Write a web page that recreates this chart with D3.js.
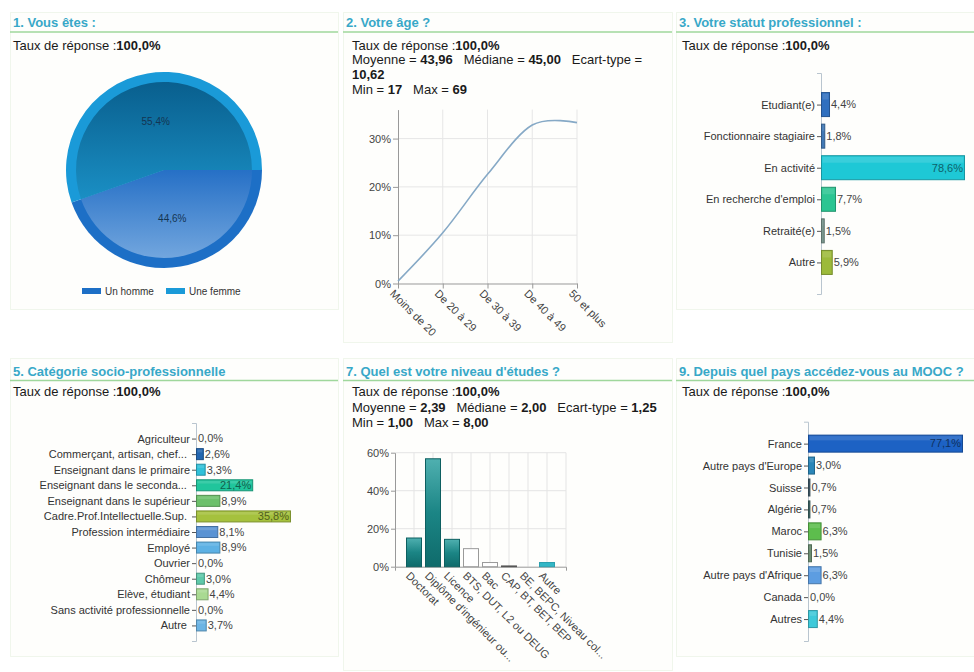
<!DOCTYPE html>
<html><head><meta charset="utf-8">
<script src="https://cdn.jsdelivr.net/npm/d3@7"></script>
<style>
body{margin:0;background:#fff;}
svg text{font-family:"Liberation Sans",Arial,sans-serif;white-space:pre;}
</style></head><body>
<svg id="c" width="974" height="672"></svg>
<script>
// ---------------- DATA ----------------
const titles = ["1. Vous êtes :", "2. Votre âge ?", "3. Votre statut professionnel :",
  "5. Catégorie socio-professionnelle", "7. Quel est votre niveau d'études ?", "9. Depuis quel pays accédez-vous au MOOC ?"];

const genderCats = ["Un homme", "Une femme"];
const genderVals = [44.6, 55.4];

const ageCats = ["Moins de 20", "De 20 à 29", "De 30 à 39", "De 40 à 49", "50 et plus"];
const ageVals = [0.5, 10.5, 22.6, 32.8, 33.3];
const ageTicks = [0, 10, 20, 30];

const statutCats = ["Etudiant(e)", "Fonctionnaire stagiaire", "En activité", "En recherche d'emploi", "Retraité(e)", "Autre"];
const statutVals = [4.4, 1.8, 78.6, 7.7, 1.5, 5.9];

const cspCats = ["Agriculteur", "Commerçant, artisan, chef... ", "Enseignant dans le primaire", "Enseignant dans le seconda... ",
  "Enseignant dans le supérieur", "Cadre.Prof.Intellectuelle.Sup. ", "Profession intermédiaire", "Employé", "Ouvrier",
  "Chômeur", "Elève, étudiant", "Sans activité professionnelle", "Autre "];
const cspVals = [0.0, 2.6, 3.3, 21.4, 8.9, 35.8, 8.1, 8.9, 0.0, 3.0, 4.4, 0.0, 3.7];

const etudesCats = ["Doctorat", "Diplôme d'ingénieur ou...", "Licence", "BTS, DUT, L2 ou DEUG", "Bac",
  "CAP, BT, BET, BEP", "BE, BEPC, Niveau col...", "Autre"];
const etudesVals = [15.1, 56.8, 14.4, 9.5, 2.2, 0.4, 0.0, 2.2];
const etudesTicks = [0, 20, 40, 60];

const paysCats = ["France", "Autre pays d'Europe", "Suisse", "Algérie", "Maroc", "Tunisie", "Autre pays d'Afrique", "Canada", "Autres"];
const paysVals = [77.1, 3.0, 0.7, 0.7, 6.3, 1.5, 6.3, 0.0, 4.4];

const ageStats = [
  [["Taux de réponse :", 0], ["100,0%", 1]],
  [["Moyenne = ", 0], ["43,96", 1], ["   Médiane = ", 0], ["45,00", 1], ["   Ecart-type =", 0]],
  [["10,62", 1]],
  [["Min = ", 0], ["17", 1], ["   Max = ", 0], ["69", 1]]
];
const etudesStats = [
  [["Taux de réponse :", 0], ["100,0%", 1]],
  [["Moyenne = ", 0], ["2,39", 1], ["   Médiane = ", 0], ["2,00", 1], ["   Ecart-type = ", 0], ["1,25", 1]],
  [["Min = ", 0], ["1,00", 1], ["   Max = ", 0], ["8,00", 1]]
];
const tauxLine = [["Taux de réponse :", 0], ["100,0%", 1]];

// ---------------- STYLES ----------------
const statutColors = ["#2f6fbf", "#4179b6", "#1ec8d6", "#2cc592", "#7b978f", "#9cba3a"];
const cspColors = ["#999", "#2366b0", "#30c1d9", "#20c59c", "#6dc06b", "#a5c13d", "#5a93d3", "#5db1e4", "#999", "#5ec9a9", "#a9da92", "#999", "#6cb4e4"];
const paysColors = ["#1d62c4", "#2a86b8", "#3e5b6b", "#3b6565", "#5dbd4d", "#6b8d71", "#5d9de1", "#999", "#3dc9d9"];
const etudesFill = ["url(#gTeal)", "url(#gTeal)", "url(#gTeal)", "#ffffff", "#ffffff", "#666", "#ffffff", "#33b7c6"];
const etudesStroke = ["#0d5f60", "#0d5f60", "#0d5f60", "#9a9a9a", "#9a9a9a", "#555", "#9a9a9a", "#2a9fae"];

const fmt = v => d3.format(".1f")(v).replace(".", ",") + "%";
const svg = d3.select("#c");
const defs = svg.append("defs");

function lg(id, stops) {
  const g = defs.append("linearGradient").attr("id", id).attr("x1", 0).attr("y1", 0).attr("x2", 0).attr("y2", 1);
  stops.forEach(s => g.append("stop").attr("offset", s[0]).attr("stop-color", s[1]));
}
lg("gFemme", [[0, "#095f8e"], [1, "#1a8fc4"]]);
lg("gHomme", [[0, "#2670c6"], [1, "#72a6de"]]);
lg("gTeal", [[0, "#4fb0b0"], [0.5, "#1b8585"], [1, "#0f6b6b"]]);

// ---------------- PANELS ----------------
const panels = [
  {x: 10, y: 12, w: 328, h: 297, tb: 27, line: 32},
  {x: 343, y: 12, w: 329, h: 330, tb: 27, line: 32},
  {x: 676, y: 12, w: 298, h: 297, tb: 27, line: 32},
  {x: 10, y: 358, w: 328, h: 298, tb: 376, line: 380.5},
  {x: 343, y: 358, w: 329, h: 312, tb: 376, line: 380.5},
  {x: 676, y: 358, w: 298, h: 298, tb: 376, line: 380.5}
];
panels.forEach((p, i) => {
  svg.append("rect").attr("x", p.x + 0.5).attr("y", p.y + 0.5).attr("width", p.w).attr("height", p.h)
    .attr("fill", "#fefefc").attr("stroke", "#e2eedb").attr("stroke-dasharray", "1,1");
  svg.append("line").attr("x1", p.x).attr("x2", p.x + p.w).attr("y1", p.line).attr("y2", p.line)
    .attr("stroke", "#9fd79c").attr("stroke-width", 1.5);
  svg.append("text").attr("x", p.x + 3).attr("y", p.tb).attr("font-size", 13).attr("font-weight", "bold")
    .attr("fill", "#38a8c8").text(titles[i]);
});

function rich(x, y, parts) {
  const t = svg.append("text").attr("x", x).attr("y", y).attr("font-size", 13).attr("fill", "#1a1a1a");
  parts.forEach(p => t.append("tspan").attr("font-weight", p[1] ? "bold" : "normal").text(p[0]));
}
rich(13, 49.5, tauxLine);
ageStats.forEach((l, i) => rich(352, 49.5 + i * 14.8, l));
rich(682, 49.5, tauxLine);
rich(13, 396, tauxLine);
etudesStats.forEach((l, i) => rich(352, 396 + i * 15.5, l));
rich(682, 396, tauxLine);

// ---------------- PIE ----------------
(function () {
  const cx = 164, cy = 170, R = 98, r2 = 88;
  const g = svg.append("g").attr("transform", `translate(${cx},${cy})`);
  const pie = d3.pie().sort(null).startAngle(Math.PI / 2).endAngle(Math.PI / 2 + 2 * Math.PI);
  const arcs = pie(genderVals);
  const rim = ["#1d6fc6", "#1a9ad8"], face = ["url(#gHomme)", "url(#gFemme)"];
  const outer = d3.arc().innerRadius(0).outerRadius(R);
  const inner = d3.arc().innerRadius(0).outerRadius(r2);
  g.selectAll("path.rim").data(arcs).join("path").attr("d", outer).attr("fill", (d, i) => rim[i]);
  g.selectAll("path.face").data(arcs).join("path").attr("d", inner).attr("fill", (d, i) => face[i]);
  g.selectAll("text").data(arcs).join("text")
    .attr("transform", d => `translate(${outer.centroid(d)})`)
    .attr("text-anchor", "middle").attr("dy", "0.35em").attr("font-size", 10).attr("fill", "#143552")
    .text(d => fmt(d.data));
  // legend
  const legX = [82, 166];
  genderCats.forEach((c, i) => {
    svg.append("rect").attr("x", legX[i]).attr("y", 288).attr("width", 19).attr("height", 6).attr("fill", rim[i]);
    svg.append("text").attr("x", legX[i] + 23).attr("y", 295).attr("font-size", 10).attr("fill", "#333").text(c);
  });
})();

// ---------------- LINE (age) ----------------
(function () {
  const x = d3.scalePoint().domain(ageCats).range([398, 577]);
  const y = d3.scaleLinear().domain([0, 36]).range([283.5, 109.6]);
  const g = svg.append("g");
  g.selectAll("line.vg").data(ageCats.slice(1)).join("line")
    .attr("x1", d => x(d)).attr("x2", d => x(d)).attr("y1", y(36)).attr("y2", y(0)).attr("stroke", "#e6e6e6");
  g.selectAll("line.hg").data(ageTicks.slice(1)).join("line")
    .attr("x1", 398).attr("x2", 577).attr("y1", d => y(d)).attr("y2", d => y(d)).attr("stroke", "#e6e6e6");
  const ya = g.append("g").attr("transform", "translate(398,0)")
    .call(d3.axisLeft(y).tickValues(ageTicks).tickFormat(d => d + "%").tickSize(5).tickSizeOuter(0).tickPadding(2));
  const xa = g.append("g").attr("transform", `translate(0,${y(0)})`)
    .call(d3.axisBottom(x).tickSize(5).tickSizeOuter(0).tickFormat(""));
  [ya, xa].forEach(a => { a.select(".domain").attr("stroke", "#999"); a.selectAll(".tick line").attr("stroke", "#999"); });
  ya.selectAll("text").attr("font-size", 11).attr("fill", "#444").attr("font-family", "Liberation Sans, Arial");
  g.selectAll("text.xl").data(ageCats).join("text")
    .attr("transform", d => `translate(${x(d) - 3},${y(0) + 5}) rotate(45)`)
    .attr("dy", "0.75em").attr("font-size", 11).attr("fill", "#444").text(d => d);
  g.append("path").datum(ageVals)
    .attr("d", d3.line().x((d, i) => x(ageCats[i])).y(d => y(d)).curve(d3.curveCardinal))
    .attr("fill", "none").attr("stroke", "#86a9c6").attr("stroke-width", 1.6);
})();

// ---------------- HORIZONTAL BARS ----------------
function hbar(cats, vals, colors, o) {
  const g = svg.append("g");
  const y = d3.scalePoint().domain(cats).range([o.top, o.bottom]).padding(1);
  const x = d3.scaleLinear().domain([0, d3.max(vals)]).range([o.x0, o.x0 + o.w]);
  const ax = g.append("g").attr("transform", `translate(${o.x0},0)`)
    .call(d3.axisLeft(y).tickSize(4).tickSizeOuter(4).tickPadding(2));
  ax.select(".domain").attr("stroke", "#b9c5cf");
  ax.selectAll(".tick line").attr("stroke", "#555");
  ax.selectAll("text").attr("font-size", 11).attr("fill", "#333").attr("font-family", "Liberation Sans, Arial");
  cats.forEach((c, i) => {
    const v = vals[i], w = x(v) - o.x0;
    if (v > 0) {
      const col = d3.color(colors[i]);
      g.append("rect").attr("x", o.x0 + 0.5).attr("y", y(c) - o.bh / 2).attr("width", w).attr("height", o.bh)
        .attr("fill", colors[i]).attr("stroke", col.darker(0.8)).attr("stroke-width", 1);
      g.append("rect").attr("x", o.x0 + 1.5).attr("y", y(c) - o.bh / 2 + 1).attr("width", Math.max(0, w - 2))
        .attr("height", o.bh * 0.25).attr("fill", "#fff").attr("opacity", 0.12);
    }
    const inside = w > 40;
    g.append("text").attr("x", inside ? x(v) - 1 : x(v) + 2).attr("y", y(c)).attr("dy", "0.35em")
      .attr("text-anchor", inside ? "end" : "start").attr("font-size", 11)
      .attr("fill", inside ? d3.color(colors[i]).darker(2) : "#444").text(fmt(v));
  });
}
hbar(statutCats, statutVals, statutColors, {x0: 821, top: 73, bottom: 294, w: 143, bh: 24});
hbar(cspCats, cspVals, cspColors, {x0: 196, top: 423, bottom: 641, w: 94, bh: 11});
hbar(paysCats, paysVals, paysColors, {x0: 808, top: 421.7, bottom: 641, w: 154, bh: 17});

// ---------------- COLUMNS (études) ----------------
(function () {
  const x = d3.scalePoint().domain(etudesCats).range([395, 566]).padding(1);
  const y = d3.scaleLinear().domain([0, 60]).range([566.7, 452.7]);
  const g = svg.append("g");
  g.selectAll("line.vg").data(etudesCats).join("line")
    .attr("x1", d => x(d)).attr("x2", d => x(d)).attr("y1", y(60)).attr("y2", y(0)).attr("stroke", "#e4e4e4");
  g.append("line").attr("x1", 566).attr("x2", 566).attr("y1", y(60)).attr("y2", y(0)).attr("stroke", "#e4e4e4");
  g.selectAll("line.hg").data(etudesTicks.slice(1)).join("line")
    .attr("x1", 395).attr("x2", 566).attr("y1", d => y(d)).attr("y2", d => y(d)).attr("stroke", "#e4e4e4");
  const ya = g.append("g").attr("transform", "translate(395,0)")
    .call(d3.axisLeft(y).tickValues(etudesTicks).tickFormat(d => d + "%").tickSize(4).tickSizeOuter(0).tickPadding(2));
  const xa = g.append("g").attr("transform", `translate(0,${y(0)})`)
    .call(d3.axisBottom(x).tickSize(0).tickSizeOuter(4).tickFormat(""));
  [ya, xa].forEach(a => { a.select(".domain").attr("stroke", "#999"); a.selectAll(".tick line").attr("stroke", "#999"); });
  ya.selectAll("text").attr("font-size", 11).attr("fill", "#444").attr("font-family", "Liberation Sans, Arial");
  const bw = 15;
  etudesCats.forEach((c, i) => {
    const v = etudesVals[i];
    if (v <= 0) return;
    g.append("rect").attr("x", x(c) - bw / 2).attr("y", y(v)).attr("width", bw).attr("height", y(0) - y(v))
      .attr("fill", etudesFill[i]).attr("stroke", etudesStroke[i]).attr("stroke-width", 1);
  });
  g.selectAll("text.xl").data(etudesCats).join("text")
    .attr("transform", d => `translate(${x(d) - 3},${y(0) + 4}) rotate(45)`)
    .attr("dy", "0.75em").attr("font-size", 11).attr("fill", "#444").text(d => d);
})();
</script>
</body></html>
